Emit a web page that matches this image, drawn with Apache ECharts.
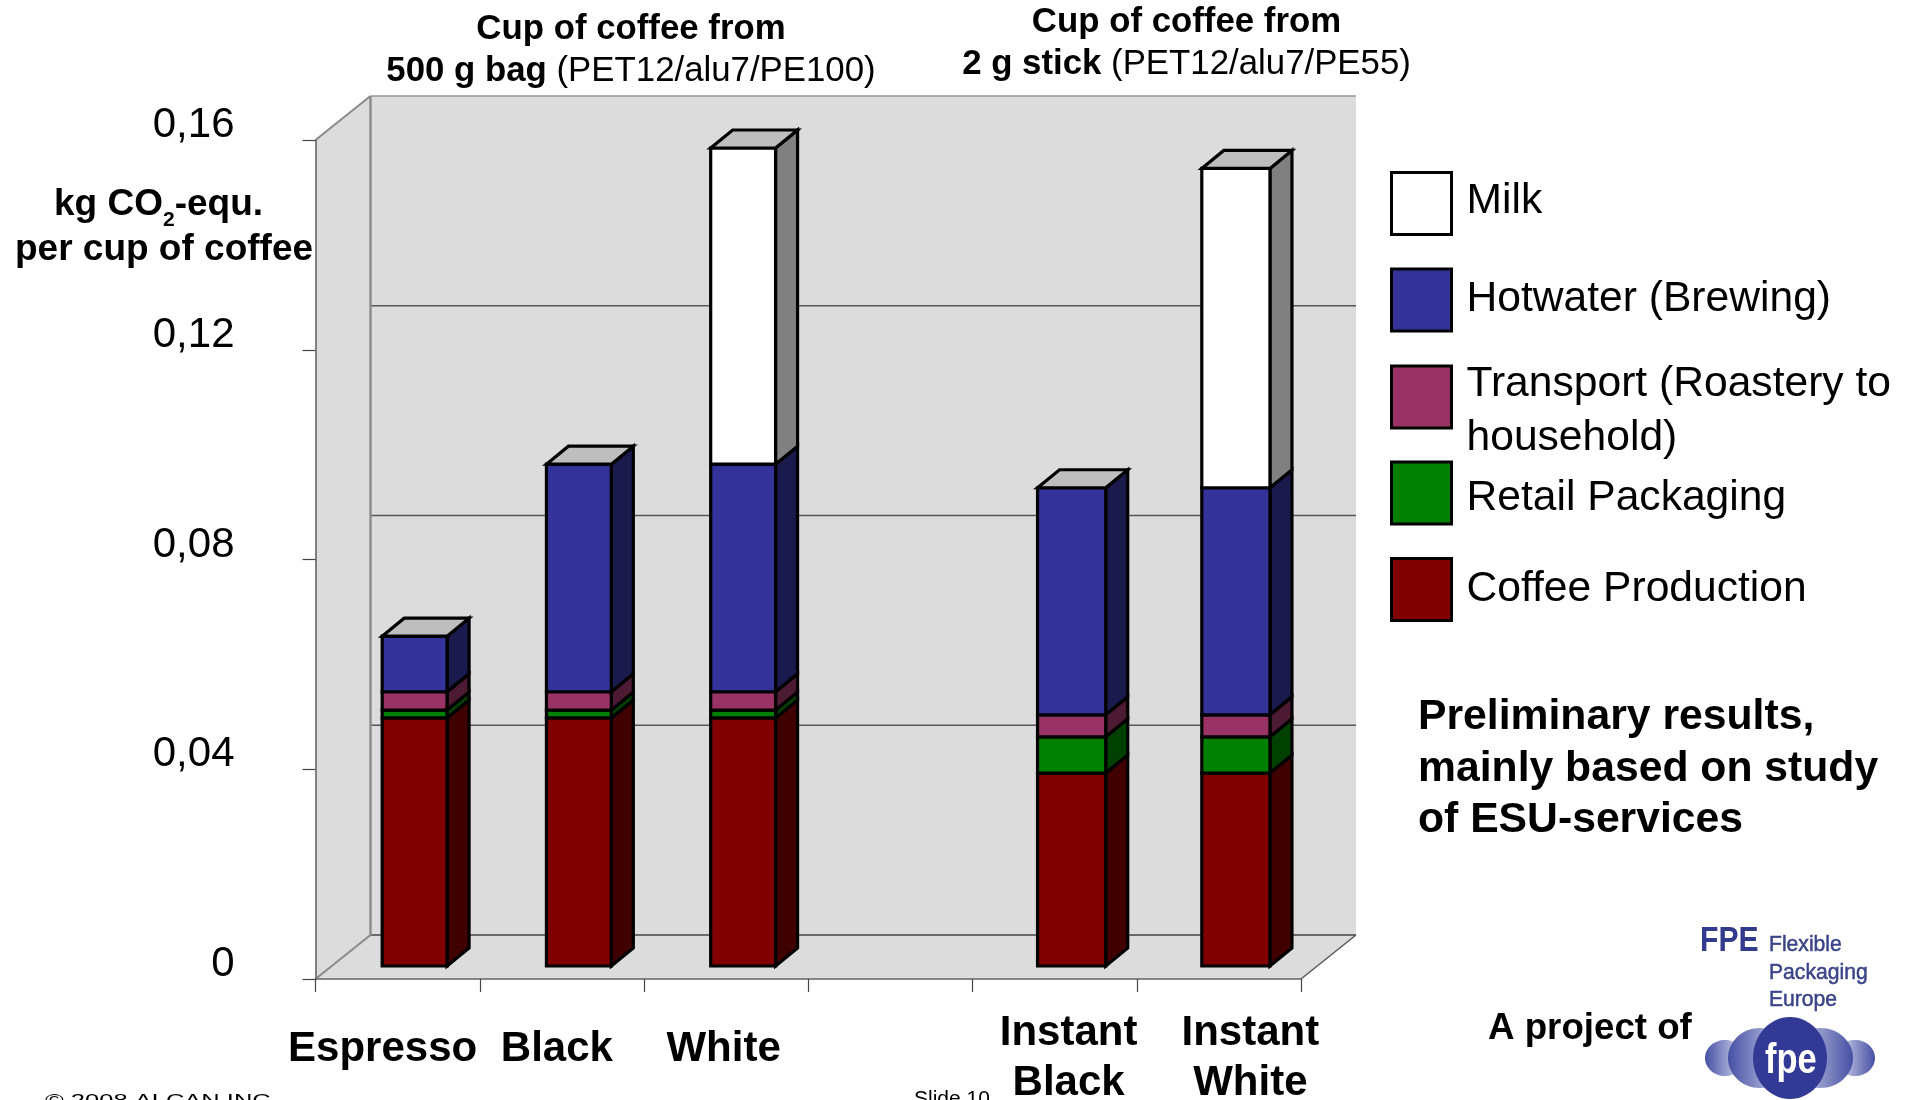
<!DOCTYPE html>
<html>
<head>
<meta charset="utf-8">
<title>Carbon footprint of a cup of coffee</title>
<script src="https://cdn.jsdelivr.net/npm/echarts@6/dist/echarts.min.js"></script>
<style>
  html, body { margin: 0; padding: 0; background: #fff; }
  #chart { width: 1914px; height: 1100px; }
</style>
</head>
<body>
<div id="chart"></div>
<script>
const categories = ['Espresso', 'Black', 'White', '', 'Instant\nBlack', 'Instant\nWhite']
const yTicks = [0.04, 0.08, 0.12]

// bottom of the stack first, same order as the categories above
const layerNames = ['Coffee Production', 'Retail Packaging', 'Transport (Roastery to\nhousehold)', 'Hotwater (Brewing)', 'Milk']
const coffeeProduction = [0.0473, 0.0473, 0.0473, 0, 0.0368, 0.0368]
const retailPackaging = [0.0015, 0.0015, 0.0015, 0, 0.0069, 0.0069]
const transport = [0.0035, 0.0035, 0.0035, 0, 0.0042, 0.0042]
const hotwater = [0.0106, 0.0434, 0.0434, 0, 0.0433, 0.0433]
const milk = [0, 0, 0.0603, 0, 0, 0.0609]
const layerValues = [coffeeProduction, retailPackaging, transport, hotwater, milk]

const frontColors = ['#800000', '#008000', '#993366', '#333399', '#ffffff']
const sideColors = ['#400000', '#004000', '#4d1a33', '#1a1a4d', '#808080']
const topColor = '#bebebe'
const wallColor = '#dcdcdc'
const font = '"Liberation Sans", Arial, sans-serif'

// fake 3D depth of the plot and of the bars, in pixels
const wall = { dx: 55, dy: 44 }
const bar = { shiftX: 17, shiftY: 13, sideX: 22, sideY: 18, border: 3.2 }
// the 500 g bars are a bit narrower than the stick bars
const barRatios = [0.395, 0.395, 0.395, 0, 0.415, 0.415]

function stackedRows(layer) {
  return categories.map((name, i) => {
    let start = 0
    for (let k = 0; k < layer; k++) start += layerValues[k][i]
    let isTop = layerValues[layer][i] > 0
    for (let k = layer + 1; k < layerValues.length; k++) {
      if (layerValues[k][i] > 0) isTop = false
    }
    return [i, start, start + layerValues[layer][i], isTop ? 1 : 0]
  })
}

function renderSegment(layer) {
  return function (params, api) {
    if (api.value(1) === api.value(2)) return
    const width = api.size([1, 0])[0] * barRatios[params.dataIndex]
    const low = api.coord([api.value(0), api.value(1)])
    const high = api.coord([api.value(0), api.value(2)])
    const x0 = low[0] + bar.shiftX - width / 2
    const x1 = x0 + width
    const y0 = low[1] - bar.shiftY
    const y1 = high[1] - bar.shiftY
    const line = { stroke: '#000', lineWidth: bar.border, lineJoin: 'miter' }
    const children = [{
      type: 'polygon',
      shape: { points: [[x1, y0], [x1 + bar.sideX, y0 - bar.sideY], [x1 + bar.sideX, y1 - bar.sideY], [x1, y1]] },
      style: Object.assign({ fill: sideColors[layer] }, line)
    }, {
      type: 'rect',
      shape: { x: x0, y: y1, width: width, height: y0 - y1 },
      style: Object.assign({ fill: frontColors[layer] }, line)
    }]
    if (api.value(3) === 1) {
      children.push({
        type: 'polygon',
        shape: { points: [[x0, y1], [x0 + bar.sideX, y1 - bar.sideY], [x1 + bar.sideX, y1 - bar.sideY], [x1, y1]] },
        style: Object.assign({ fill: topColor }, line)
      })
    }
    return { type: 'group', children: children }
  }
}

// walls, floor and the gridlines of the back wall
function renderFrame(params, api) {
  const left = params.coordSys.x
  const right = left + params.coordSys.width
  const floor = api.coord([0, 0])[1]
  const top = api.coord([0, 0.16])[1]
  const backLeft = left + wall.dx
  const backRight = right + wall.dx
  const backFloor = floor - wall.dy
  const backTop = top - wall.dy
  const seg = (x1, y1, x2, y2, stroke, lineWidth) => ({
    type: 'line',
    shape: { x1: x1, y1: y1, x2: x2, y2: y2 },
    style: { stroke: stroke, lineWidth: lineWidth }
  })
  const children = [{
    type: 'polygon',
    shape: { points: [[left, floor], [backLeft, backFloor], [backRight, backFloor], [right, floor]] },
    style: { fill: wallColor }
  }, {
    type: 'rect',
    shape: { x: backLeft, y: backTop, width: backRight - backLeft, height: backFloor - backTop },
    style: { fill: wallColor }
  }, {
    type: 'polygon',
    shape: { points: [[left, floor], [left, top], [backLeft, backTop], [backLeft, backFloor]] },
    style: { fill: wallColor }
  }]
  yTicks.forEach((t) => {
    const y = api.coord([0, t])[1] - wall.dy
    children.push(seg(backLeft, y, backRight, y, '#555', 1.4))
  })
  children.push(seg(backLeft, backFloor, backRight, backFloor, '#444', 1.6))
  children.push(seg(backLeft, backTop, backRight, backTop, '#999', 1.4))
  children.push(seg(backLeft, backTop, backLeft, backFloor, '#8a8a8a', 2.4))
  children.push(seg(left, top, backLeft, backTop, '#8a8a8a', 2))
  children.push(seg(left, floor, backLeft, backFloor, '#8a8a8a', 2))
  children.push(seg(right, floor, backRight, backFloor, '#555', 1.4))
  return { type: 'group', children: children }
}

const series = [{
  name: 'frame',
  type: 'custom',
  z: 1,
  silent: true,
  data: [[0, 0]],
  renderItem: renderFrame
}]
layerNames.forEach((name, layer) => {
  series.push({
    name: name,
    type: 'custom',
    z: 2,
    itemStyle: { color: frontColors[layer] },
    encode: { x: 0, y: 2 },
    data: stackedRows(layer),
    renderItem: renderSegment(layer)
  })
})

const legendTops = [171, 267.5, 334, 460.5, 557]
const legendOrder = [4, 3, 2, 1, 0]
const legendTextPadding = [[0, 0, 4, 10], [0, 0, 1, 10], [29, 0, 0, 10], [11, 0, 0, 10], [0, 0, 1, 10]]
const legends = legendOrder.map((layer, i) => ({
  left: 1390,
  top: legendTops[i],
  padding: 0,
  orient: 'vertical',
  itemWidth: 60,
  itemHeight: 62,
  selectedMode: false,
  data: [{
    name: layerNames[layer],
    icon: 'rect',
    itemStyle: { color: frontColors[layer], borderColor: '#000', borderWidth: 3 }
  }],
  formatter: (name) => name.split('\n').map((l) => '{a|' + l + '}').join('\n'),
  textStyle: {
    rich: {
      a: { fontFamily: font, fontSize: 42.6, lineHeight: 54, color: '#000', padding: legendTextPadding[i] }
    }
  }
}))

// the labels are pasted off-centre on the slide: [top, right, left] padding per category
const labelPadding = [[16, 30, 0], [16, 10, 0], [16, 5, 0], [0, 0, 0], [0, 0, 28], [0, 0, 63]]

const chart = echarts.init(document.getElementById('chart'))
chart.setOption({
  animation: false,
  backgroundColor: '#fff',
  legend: legends,
  grid: { left: 315.5, top: 140, width: 985.5, height: 839, outerBoundsMode: 'none' },
  xAxis: {
    type: 'category',
    data: categories.map((name, i) => ({
      value: name,
      textStyle: { padding: [labelPadding[i][0], labelPadding[i][1], 0, labelPadding[i][2]] }
    })),
    z: 3,
    boundaryGap: true,
    axisLine: { show: true, lineStyle: { color: '#666', width: 1.6 } },
    axisTick: { show: true, length: 13, alignWithLabel: false, lineStyle: { color: '#444', width: 1.2 } },
    axisLabel: {
      interval: 0,
      margin: 29,
      fontFamily: font,
      fontSize: 42,
      fontWeight: 'bold',
      lineHeight: 50,
      color: '#000'
    }
  },
  yAxis: {
    type: 'value',
    min: 0,
    max: 0.16,
    interval: 0.04,
    z: 3,
    splitLine: { show: false },
    axisLine: { show: true, lineStyle: { color: '#666', width: 1.6 } },
    axisTick: { show: true, length: 13, lineStyle: { color: '#444', width: 1.2 } },
    axisLabel: {
      margin: 81,
      fontFamily: font,
      fontSize: 42,
      color: '#000',
      verticalAlign: 'bottom',
      padding: [0, 0, -6.5, 0],
      formatter: (v) => (v === 0 ? '0' : v.toFixed(2).replace('.', ','))
    }
  },
  series: series,
  graphic: {
    elements: [
      {
        type: 'text', z: 5,
        style: {
          x: 631, y: 50.5, align: 'center', verticalAlign: 'middle',
          text: '{b|Cup of coffee from}\n{b|500 g bag}{r| (PET12/alu7/PE100)}',
          rich: {
            b: { fontFamily: font, fontSize: 34.8, fontWeight: 'bold', lineHeight: 42, fill: '#000' },
            r: { fontFamily: font, fontSize: 34.8, lineHeight: 42, fill: '#000' }
          }
        }
      },
      {
        type: 'text', z: 5,
        style: {
          x: 1186.5, y: 43.5, align: 'center', verticalAlign: 'middle',
          text: '{b|Cup of coffee from}\n{b|2 g stick}{r| (PET12/alu7/PE55)}',
          rich: {
            b: { fontFamily: font, fontSize: 34.8, fontWeight: 'bold', lineHeight: 42, fill: '#000' },
            r: { fontFamily: font, fontSize: 34.8, lineHeight: 42, fill: '#000' }
          }
        }
      },
      {
        type: 'text', z: 5,
        style: {
          x: 158.5, y: 205, align: 'center', verticalAlign: 'middle',
          text: '{b|kg CO}{s|2}{b|-equ.}',
          rich: {
            b: { fontFamily: font, fontSize: 37, fontWeight: 'bold', fill: '#000' },
            s: { fontFamily: font, fontSize: 21, fontWeight: 'bold', fill: '#000', padding: [30, 0, 0, 0] }
          }
        }
      },
      {
        type: 'text', z: 5,
        style: {
          x: 164, y: 250, align: 'center', verticalAlign: 'middle',
          text: 'per cup of coffee',
          fontFamily: font, fontSize: 37, fontWeight: 'bold', fill: '#000'
        }
      },
      {
        type: 'text', z: 5,
        style: {
          x: 1418, y: 769, verticalAlign: 'middle',
          text: 'Preliminary results,\nmainly based on study\nof ESU-services',
          fontFamily: font, fontSize: 42.7, fontWeight: 'bold', lineHeight: 51.5, fill: '#000'
        }
      },
      {
        type: 'text', z: 5,
        style: {
          x: 1488, y: 1029, verticalAlign: 'middle',
          text: 'A project of',
          fontFamily: font, fontSize: 36.7, fontWeight: 'bold', fill: '#000'
        }
      },
      {
        type: 'text', z: 5, x: 45, y: 1110, scaleX: 1.5,
        style: { x: 0, y: 0, verticalAlign: 'bottom', text: '© 2008 ALCAN INC.', fontFamily: font, fontSize: 17, fill: '#000' }
      },
      {
        type: 'text', z: 5,
        style: { x: 914, y: 1110, verticalAlign: 'bottom', text: 'Slide 10', fontFamily: font, fontSize: 21, fill: '#000' }
      },
      // FPE logo
      {
        type: 'text', z: 5, x: 1700, y: 941, scaleX: 0.86,
        style: { x: 0, y: 0, verticalAlign: 'middle', text: 'FPE', fontFamily: font, fontSize: 35, fontWeight: 'bold', fill: '#323a8c' }
      },
      logoWord('Flexible', 945), logoWord('Packaging', 973), logoWord('Europe', 1000),
      logoBlob(1725, 20, 18, true), logoBlob(1855, 20, 18, false),
      logoBlob(1760, 32, 30, true), logoBlob(1820, 33, 30, false),
      {
        type: 'ellipse', z: 5,
        shape: { cx: 1790, cy: 1058, rx: 37, ry: 41 },
        style: { fill: '#323a96' }
      },
      {
        type: 'text', z: 6, x: 1765, y: 1061, scaleX: 0.82,
        style: { x: 0, y: 0, verticalAlign: 'middle', text: 'fpe', fontFamily: font, fontSize: 42, fontWeight: 'bold', fill: '#fff' }
      }
    ]
  }
})

function logoWord(word, y) {
  return {
    type: 'text', z: 5, x: 1769, y: y, scaleX: 0.96,
    style: { x: 0, y: 0, verticalAlign: 'middle', text: word, fontFamily: font, fontSize: 22, fill: '#3a4488', stroke: '#3a4488', lineWidth: 0.5 }
  }
}

function logoBlob(cx, rx, ry, darkOnLeft) {
  return {
    type: 'ellipse', z: 5,
    shape: { cx: cx, cy: 1058, rx: rx, ry: ry },
    style: {
      fill: new echarts.graphic.LinearGradient(0, 0, 1, 0, [
        { offset: 0, color: darkOnLeft ? '#4650a4' : '#dfe2f2' },
        { offset: 1, color: darkOnLeft ? '#dfe2f2' : '#4650a4' }
      ])
    }
  }
}
</script>
</body>
</html>
